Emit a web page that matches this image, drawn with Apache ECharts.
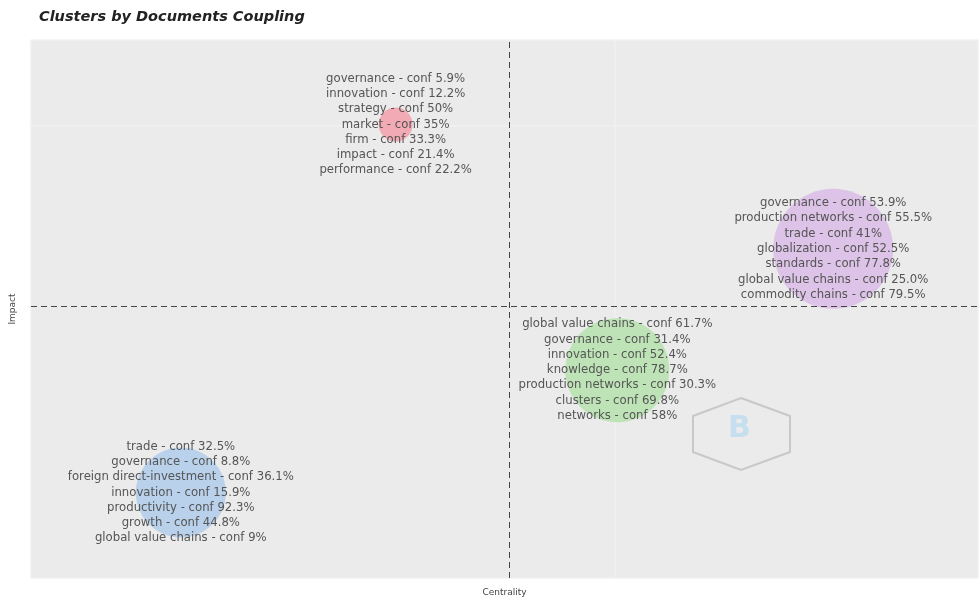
<!DOCTYPE html>
<html>
<head>
<meta charset="utf-8">
<script src="https://cdn.jsdelivr.net/npm/echarts@6/dist/echarts.min.js"></script>
<style>html,body{margin:0;padding:0;background:#fff;}#c{width:980px;height:602px;}</style>
</head>
<body>
<div id="c"></div>
<script>
// ---- data ----
const clusterNames = ['red', 'purple', 'green', 'blue'];
const centrality = [0.3125, 0.6875, 0.5025, 0.1284];
const impact = [0.5011, 0.3637, 0.2297, 0.0945];
const frequency = [72, 900, 676, 506];
const centralityMid = 0.4101;
const impactMid = 0.2958;
const labelsRed = ['governance - conf 5.9%', 'innovation - conf 12.2%', 'strategy - conf 50%', 'market - conf 35%', 'firm - conf 33.3%', 'impact - conf 21.4%', 'performance - conf 22.2%'];
const labelsPurple = ['governance - conf 53.9%', 'production networks - conf 55.5%', 'trade - conf 41%', 'globalization - conf 52.5%', 'standards - conf 77.8%', 'global value chains - conf 25.0%', 'commodity chains - conf 79.5%'];
const labelsGreen = ['global value chains - conf 61.7%', 'governance - conf 31.4%', 'innovation - conf 52.4%', 'knowledge - conf 78.7%', 'production networks - conf 30.3%', 'clusters - conf 69.8%', 'networks - conf 58%'];
const labelsBlue = ['trade - conf 32.5%', 'governance - conf 8.8%', 'foreign direct-investment - conf 36.1%', 'innovation - conf 15.9%', 'productivity - conf 92.3%', 'growth - conf 44.8%', 'global value chains - conf 9%'];
const clusterLabels = [labelsRed, labelsPurple, labelsGreen, labelsBlue];

// ---- styles ----
const colors = ['#f2aab4', '#dcc3e7', '#bee3b6', '#b9d1ea'];

const data = clusterNames.map((n, i) => ({
  name: n,
  value: [centrality[i], impact[i], frequency[i]],
  itemStyle: { color: colors[i] },
  label: { formatter: clusterLabels[i].join('\n') }
}));

const chart = echarts.init(document.getElementById('c'), null, { renderer: 'canvas' });
chart.setOption({
  animation: false,
  backgroundColor: '#ffffff',
  title: {
    text: 'Clusters by Documents Coupling',
    left: 34, top: 5,
    textStyle: { fontFamily: 'DejaVu Sans', fontSize: 14.5, fontWeight: 'bold', fontStyle: 'italic', color: '#222' }
  },
  grid: { left: 30, right: 2, top: 40, bottom: 21, show: true, backgroundColor: '#ebebeb', borderWidth: 0 },
  xAxis: {
    type: 'value', min: 0, max: 0.8116, interval: 0.5,
    name: 'Centrality', nameLocation: 'middle', nameGap: 10,
    nameTextStyle: { fontFamily: 'DejaVu Sans', fontSize: 9, color: '#444' },
    axisLine: { show: false }, axisTick: { show: false }, axisLabel: { show: false },
    splitLine: { show: true, lineStyle: { color: '#f1f1f1', width: 1.5 } }
  },
  yAxis: {
    type: 'value', min: 0, max: 0.5945, interval: 0.5,
    name: 'Impact', nameLocation: 'middle', nameGap: 14,
    nameTextStyle: { fontFamily: 'DejaVu Sans', fontSize: 9, color: '#444' },
    axisLine: { show: false }, axisTick: { show: false }, axisLabel: { show: false },
    splitLine: { show: true, lineStyle: { color: '#f1f1f1', width: 1.5 } }
  },
  series: [{
    type: 'scatter',
    data: data,
    symbolSize: v => Math.sqrt(v[2]) * 4,
    itemStyle: { opacity: 1 },
    label: {
      show: true, position: 'inside',
      fontFamily: 'DejaVu Sans', fontSize: 11.7, lineHeight: 15.3, color: '#555', align: 'center'
    },
    markLine: {
      silent: true, symbol: 'none', label: { show: false },
      lineStyle: { type: [6, 4], color: '#444', width: 1 },
      data: [{ xAxis: centralityMid }, { yAxis: impactMid }]
    }
  }],
  graphic: [
    {
      type: 'polygon', z: 1,
      shape: { points: [[741, 398], [790, 416], [790, 452], [741, 470], [693, 452], [693, 416]] },
      style: { fill: 'rgba(0,0,0,0)', stroke: '#c8c8c8', lineWidth: 2 }
    },
    {
      type: 'text', z: 1, left: 728, top: 414,
      style: { text: 'B', fontFamily: 'DejaVu Sans', fontSize: 30, fontWeight: 'bold', fill: '#c6dfee' }
    }
  ]
});
</script>
</body>
</html>
